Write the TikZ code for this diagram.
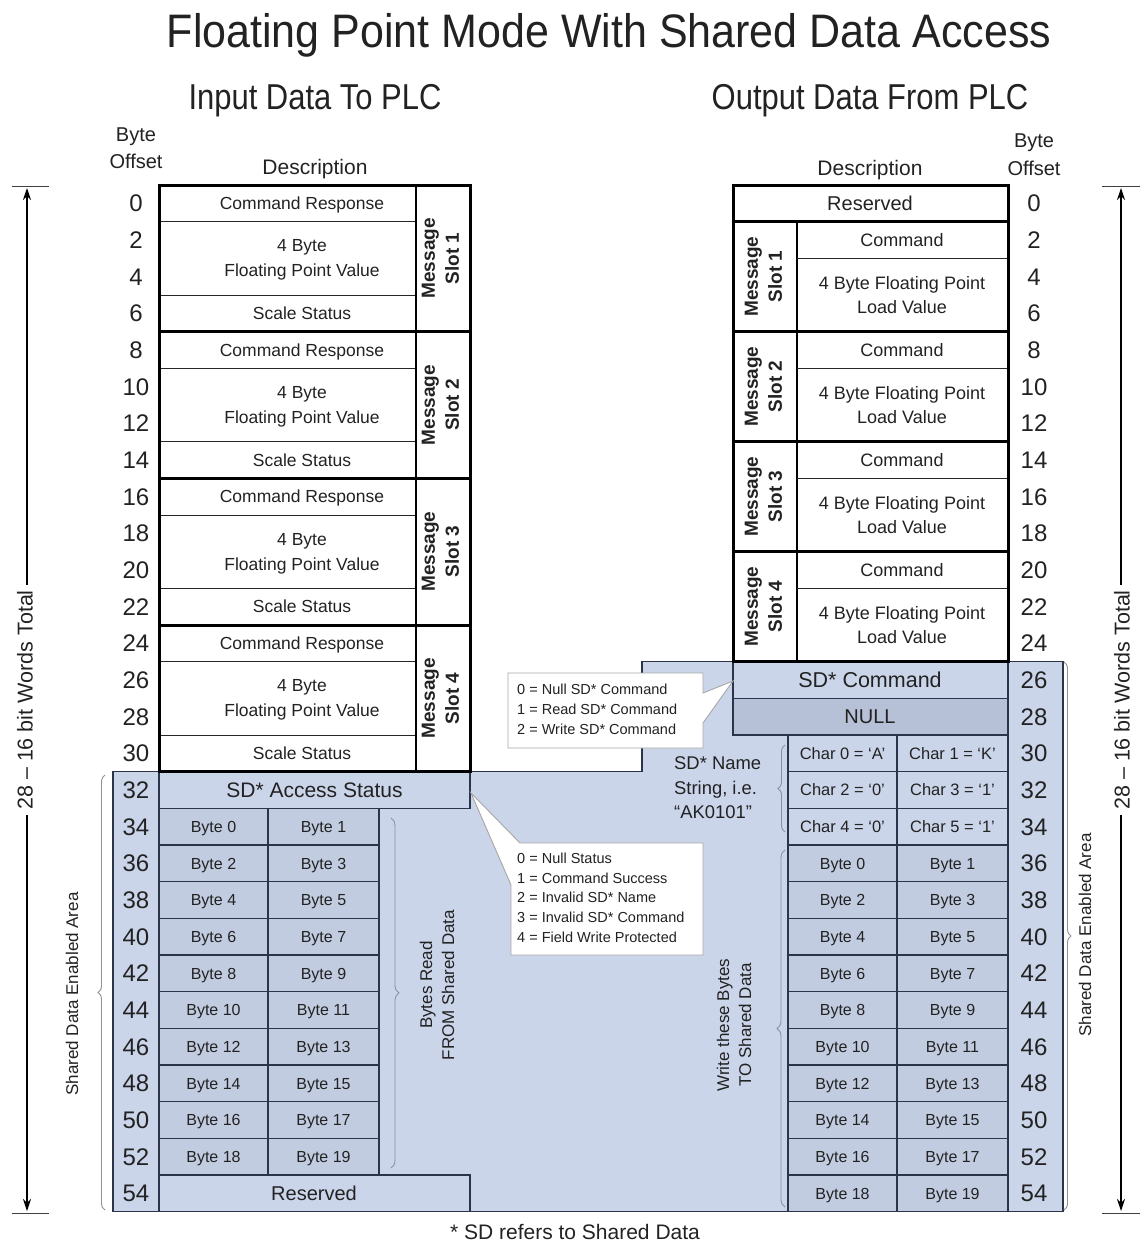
\documentclass[tikz,border=0pt]{standalone}
\usepackage{fontspec}
\usepackage{graphicx}
\setmainfont{Liberation Sans}
\usetikzlibrary{decorations.pathreplacing,arrows.meta}
\definecolor{sdbg}{HTML}{CBD5EA}
\definecolor{sdcell}{HTML}{C2CCE1}
\definecolor{sdnull}{HTML}{B6C0D6}
\definecolor{sdline}{HTML}{2B3448}
\definecolor{brgray}{HTML}{8C919B}
\definecolor{callgray}{HTML}{A6A6A6}
\definecolor{ink}{HTML}{222222}
\newcommand\myfs[1]{\fontsize{#1}{#1}\selectfont}
\begin{document}
\begin{tikzpicture}[x=1pt,y=-1pt,
  txt/.style={inner sep=0pt, anchor=base, yshift={-0.36*#1}, font=\myfs{#1}, text=ink},
  ltxt/.style={inner sep=0pt, anchor=base west, yshift={-0.36*#1}, font=\myfs{#1}, text=ink},
  rot/.style={inner sep=0pt, rotate=90, align=center, font=\bfseries\fontsize{19}{24}\selectfont, text=ink},
  rotn/.style={inner sep=0pt, rotate=90, align=center, font=\fontsize{17}{22}\selectfont, text=ink},
  thickline/.style={draw=black, line width=3pt},
  thinline/.style={draw=black!85, line width=1pt},
  sdbox/.style={draw=sdline, line width=1.2pt, fill=sdbg},
  sdcellst/.style={draw=sdline, line width=1.2pt, fill=sdcell},
  sdnullst/.style={draw=sdline, line width=1.2pt, fill=sdnull},
  brst/.style={draw=brgray, line width=0.9pt, decorate, decoration={brace, amplitude=#1}},
  callst/.style={fill=white, draw=callgray, line width=0.9pt},
  words/.style={rotate=90, fill=white, inner sep=5pt, font=\myfs{21.5}, text=ink},
  dimarrow/.style={draw=black, line width=1.2pt, {Stealth[length=12pt,width=8pt]}-{Stealth[length=12pt,width=8pt]}},
  tick/.style={draw=black!75, line width=0.9pt}
]
\useasboundingbox (0,0) rectangle (1145,1245);

% ---------- shared data shaded area ----------
\draw[fill=sdbg, draw=sdline, line width=1.1pt]
  (113,771.67) -- (642,771.67) -- (642,661.67) -- (1063,661.67) -- (1063,1211.67) -- (113,1211.67) -- cycle;

% left shaded cells
\draw[sdbox] (159,771.67) rectangle (470,808.33);
\node[txt=21] (Lsd) at (314.5,790) {SD* Access Status};
\foreach \k in {17,...,26}{
  \pgfmathsetmacro\ya{185+36.667*\k}
  \pgfmathsetmacro\yb{\ya+36.667}
  \pgfmathsetmacro\yc{\ya+18.333}
  \pgfmathtruncatemacro\ba{2*(\k-17)}
  \pgfmathtruncatemacro\bb{2*(\k-17)+1}
  \draw[sdcellst] (159,\ya) rectangle (268,\yb);
  \draw[sdcellst] (268,\ya) rectangle (379,\yb);
  \node[txt=16] (Lb\ba) at (213.5,\yc) {Byte \ba};
  \node[txt=16] (Lb\bb) at (323.5,\yc) {Byte \bb};
}
\draw[sdbox] (159,1175) rectangle (470,1211.67);
\node[txt=20] (Lres) at (314,1193.3) {Reserved};
\draw[draw=sdline, line width=1.2pt] (159,771.67) -- (159,1211.67);

% right shaded cells
\draw[sdbox] (733,661.67) rectangle (1008,698.33);
\node[txt=21.5] (Rsdc) at (870,680) {SD* Command};
\draw[sdnullst] (733,698.33) rectangle (1008,735);
\node[txt=20] (Rnull) at (870,716.7) {NULL};
\draw[draw=sdline, line width=1.2pt] (1008,661.67) -- (1008,1211.67);
\foreach \k/\ca/\cb/\la/\lb in {15/0/1/A/K,16/2/3/0/1,17/4/5/0/1}{
  \pgfmathsetmacro\ya{185+36.667*\k}
  \pgfmathsetmacro\yb{\ya+36.667}
  \pgfmathsetmacro\yc{\ya+18.333}
  \draw[sdbox] (788,\ya) rectangle (897,\yb);
  \draw[sdbox] (897,\ya) rectangle (1008,\yb);
  \node[txt=16.5] (Rch\ca) at (842.5,\yc) {Char \ca\ = ‘\la’};
  \node[txt=16.5] (Rch\cb) at (952.5,\yc) {Char \cb\ = ‘\lb’};
}
\foreach \k in {18,...,27}{
  \pgfmathsetmacro\ya{185+36.667*\k}
  \pgfmathsetmacro\yb{\ya+36.667}
  \pgfmathsetmacro\yc{\ya+18.333}
  \pgfmathtruncatemacro\ba{2*(\k-18)}
  \pgfmathtruncatemacro\bb{2*(\k-18)+1}
  \draw[sdcellst] (788,\ya) rectangle (897,\yb);
  \draw[sdcellst] (897,\ya) rectangle (1008,\yb);
  \node[txt=16] (Rb\ba) at (842.5,\yc) {Byte \ba};
  \node[txt=16] (Rb\bb) at (952.5,\yc) {Byte \bb};
}

% ---------- left table (input) ----------
\foreach \i in {0,1,2,3}{
  \pgfmathsetmacro\ya{185+36.667*4*\i}
  \pgfmathsetmacro\yb{\ya+36.667}
  \pgfmathsetmacro\yd{\ya+3*36.667}
  \pgfmathtruncatemacro\n{\i+1}
  \draw[thinline] (159,\yb) -- (416,\yb) (159,\yd) -- (416,\yd);
  \node[txt=17.5] (Lcr\i) at (302,\ya+18.33) {Command Response};
  \node[txt=17.5] (Lfa\i) at (302,\yb+24) {4 Byte};
  \node[txt=17.5] (Lfb\i) at (302,\yb+49) {Floating Point Value};
  \node[txt=17.5] (Lss\i) at (302,\yd+18.33) {Scale Status};
  \node[rot] (Lms\i) at (440.5,\ya+73.33) {Message\\Slot \n};
}
\draw[line width=1.3pt] (416,185) -- (416,771.67);
\draw[thickline] (159,185) rectangle (470,771.67);
\foreach \k in {4,8,12}{
  \draw[thickline] (159,185+36.667*\k) -- (470,185+36.667*\k);
}

% ---------- right table (output) ----------
\draw[thickline] (733,185) rectangle (1008,221.67);
\node[txt=20] (Rres) at (870,203.3) {Reserved};
\foreach \i in {0,1,2,3}{
  \pgfmathsetmacro\ya{185+36.667*(1+3*\i)}
  \pgfmathsetmacro\yb{\ya+36.667}
  \pgfmathsetmacro\ye{\ya+3*36.667}
  \pgfmathtruncatemacro\n{\i+1}
  \draw[line width=1.3pt] (797,\ya) -- (797,\ye);
  \draw[thinline] (797,\yb) -- (1008,\yb);
  \draw[thickline] (733,\ya) rectangle (1008,\ye);
  \node[txt=18] (Rc\i) at (902,\ya+18.33) {Command};
  \node[txt=18] (Rfa\i) at (902,\yb+24.7) {4 Byte Floating Point};
  \node[txt=18] (Rfb\i) at (902,\yb+48.7) {Load Value};
  \node[rot] (Rms\i) at (763.5,\ya+55) {Message\\Slot \n};
}

% ---------- byte offsets ----------
\foreach \k in {0,...,27}{
  \pgfmathsetmacro\yc{185+36.667*(\k+0.5)}
  \pgfmathtruncatemacro\off{2*\k}
  \node[txt=24] (Lo\k) at (136,\yc) {\off};
  \node[txt=24] (Ro\k) at (1034,\yc) {\off};
}

% ---------- headings ----------
\node[txt=47] (title) at (609,31) {\scalebox{0.915}[1]{Floating Point Mode With Shared Data Access}};
\node[txt=36] (hin) at (315,97) {\scalebox{0.86}[1]{Input Data To PLC}};
\node[txt=36] (hout) at (870,97) {\scalebox{0.86}[1]{Output Data From PLC}};
\node[txt=20] (Lby) at (136,134) {Byte};
\node[txt=20] (Lof) at (136,161) {Offset};
\node[txt=20] (Rby) at (1034,140) {Byte};
\node[txt=20] (Rof) at (1034,168) {Offset};
\node[txt=21] (Ldesc) at (315,167) {Description};
\node[txt=21] (Rdesc) at (870,168) {Description};

% ---------- braces and their labels ----------
\coordinate (b1a) at (105,1210); \coordinate (b1b) at (105,775);
\draw[brst=7pt] (b1a) -- (b1b);
\node[rotn, font=\myfs{17}] (Lsdea) at (72,994) {Shared Data Enabled Area};
\coordinate (b2a) at (391,818); \coordinate (b2b) at (391,1168);
\draw[brst=8pt] (b2a) -- (b2b);
\node[rotn] (Lbr) at (437,985) {Bytes Read\\FROM Shared Data};
\coordinate (b3a) at (785,832); \coordinate (b3b) at (785,745);
\draw[brst=7pt] (b3a) -- (b3b);
\node[ltxt=18.4] (Rnm1) at (674,763) {SD* Name};
\node[ltxt=18.4] (Rnm2) at (674,788) {String, i.e.};
\node[ltxt=18.4] (Rnm3) at (674,812) {“AK0101”};
\coordinate (b4a) at (785,1207); \coordinate (b4b) at (785,850);
\draw[brst=8pt] (b4a) -- (b4b);
\node[rotn] (Rwr) at (734,1025) {Write these Bytes\\TO Shared Data};
\coordinate (b5a) at (1064,662); \coordinate (b5b) at (1064,1210);
\draw[brst=7pt] (b5a) -- (b5b);
\node[rotn, font=\myfs{17}] (Rsdea) at (1085,935) {Shared Data Enabled Area};

% ---------- total word arrows ----------
\draw[tick] (12,186) -- (49,186) (12,1213) -- (49,1213);
\coordinate (LAtop) at (27,188); \coordinate (LAbot) at (27,1211);
\draw[dimarrow] (LAtop) -- (LAbot);
\node[words] (Lwords) at (25,700) {28 – 16 bit Words Total};
\draw[tick] (1102,186) -- (1140,186) (1102,1213) -- (1140,1213);
\coordinate (RAtop) at (1121,188); \coordinate (RAbot) at (1121,1211);
\draw[dimarrow] (RAtop) -- (RAbot);
\node[words] (Rwords) at (1122,700) {28 – 16 bit Words Total};

% ---------- callouts ----------
\draw[callst] (508,673) -- (703,673) -- (703,693) -- (733,681) -- (703,723) -- (703,748) -- (508,748) -- cycle;
\node[ltxt=14.5] (c1a) at (517,689) {0 = Null SD* Command};
\node[ltxt=14.5] (c1b) at (517,709) {1 = Read SD* Command};
\node[ltxt=14.5] (c1c) at (517,729) {2 = Write SD* Command};
\draw[callst] (520,843) -- (703,843) -- (703,955) -- (511,955) -- (511,885) -- (471,793) -- cycle;
\node[ltxt=14.5] (c2a) at (517,858) {0 = Null Status};
\node[ltxt=14.5] (c2b) at (517,878) {1 = Command Success};
\node[ltxt=14.5] (c2c) at (517,897.5) {2 = Invalid SD* Name};
\node[ltxt=14.5] (c2d) at (517,917) {3 = Invalid SD* Command};
\node[ltxt=14.5] (c2e) at (517,937) {4 = Field Write Protected};

% ---------- footnote ----------
\node[txt=21] (foot) at (575,1232) {* SD refers to Shared Data};
\end{tikzpicture}
\end{document}
